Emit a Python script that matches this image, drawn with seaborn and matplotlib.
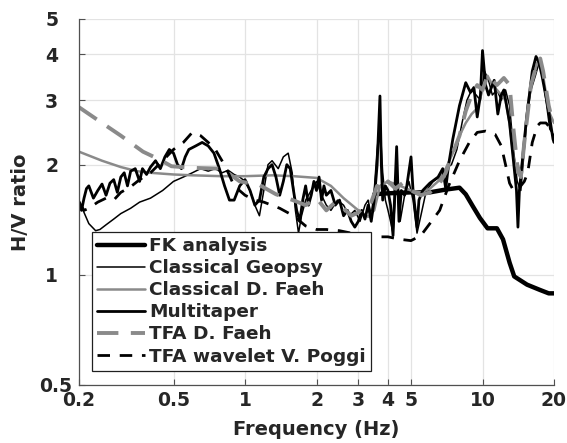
import numpy as np
import pandas as pd
import matplotlib
matplotlib.use("Agg")
import matplotlib.pyplot as plt
import matplotlib.transforms as mtransforms
from matplotlib.ticker import FixedLocator, FixedFormatter, NullLocator
import seaborn as sns

# ---------------- data ----------------
fk_freq = [3.5, 4.0, 5.0, 6.0, 7.0, 7.5, 8.0, 8.5, 9.1, 9.75, 10.5, 11.5, 12.2,
           13.0, 13.6, 15.4, 17.4, 19.0, 20.0]
fk_hv = [1.66, 1.67, 1.68, 1.68, 1.71, 1.72, 1.73, 1.66, 1.54, 1.43, 1.34, 1.34,
         1.25, 1.08, 0.99, 0.94, 0.91, 0.89, 0.89]

geopsy_freq = [0.2, 0.21, 0.22, 0.235, 0.245, 0.26, 0.28, 0.30, 0.33, 0.36, 0.40,
               0.45, 0.50, 0.55, 0.60, 0.65, 0.70, 0.75, 0.80, 0.85, 0.90, 0.95,
               1.0, 1.05, 1.1, 1.15, 1.2, 1.25, 1.3, 1.38, 1.45, 1.52, 1.58, 1.63,
               1.68, 1.73, 1.8, 1.9, 2.0, 2.1, 2.2, 2.3, 2.45, 2.6, 2.75, 2.9,
               3.05, 3.2, 3.3, 3.4, 3.5, 3.6, 3.7, 3.8, 3.9, 4.0, 4.1, 4.2, 4.3,
               4.4, 4.5, 4.7, 4.9, 5.1, 5.3, 5.5, 5.8, 6.2, 6.6, 7.0, 7.4, 7.8,
               8.2, 8.6, 9.0, 9.4, 9.8, 10.2, 10.6, 11.0, 11.5, 12.0, 12.5, 13.0,
               13.5, 14.0, 14.5, 15.0, 15.5, 16.0, 16.7, 17.3, 17.8, 18.5, 19.2, 20.0]
geopsy_hv = [1.6, 1.48, 1.38, 1.32, 1.33, 1.37, 1.42, 1.47, 1.52, 1.58, 1.62,
             1.7, 1.8, 1.85, 1.9, 1.95, 1.92, 1.95, 1.9, 1.93, 1.88, 1.85,
             1.8, 1.7, 1.55, 1.45, 1.7, 2.0, 2.05, 1.95, 2.1, 2.15, 1.9, 1.5,
             1.3, 1.45, 1.6, 1.7, 1.8, 1.65, 1.55, 1.5, 1.6, 1.55, 1.45, 1.5,
             1.4, 1.55, 1.6, 1.45, 1.7, 2.2, 2.6, 1.9, 1.6, 1.5, 1.4, 1.3, 1.65,
             1.7, 1.4, 1.65, 1.8, 1.6, 1.3, 1.45, 1.7, 1.8, 1.85, 1.95, 2.0, 2.2,
             2.6, 3.0, 3.2, 3.1, 3.0, 3.6, 3.4, 3.1, 3.2, 3.0, 3.2, 2.9,
             2.2, 1.8, 1.7, 2.2, 2.8, 3.2, 3.5, 3.8, 3.6, 3.0, 2.5, 2.4]

faeh_freq = [0.2, 0.25, 0.3, 0.35, 0.4, 0.5, 0.6, 0.8, 1.0, 1.3, 1.6, 2.0, 2.3,
             2.6, 3.0, 3.3, 3.5, 3.7, 4.0, 4.5, 5.0, 5.5, 6.0, 6.5, 7.0, 7.5,
             8.0, 8.5, 9.0, 9.5, 10.0, 10.5, 11.0, 11.5, 12.0, 12.5, 13.0, 13.5,
             14.0, 14.5, 15.0, 15.5, 16.0, 17.0, 17.5, 18.0, 19.0, 20.0]
faeh_hv = [2.17, 2.05, 1.97, 1.92, 1.9, 1.88, 1.87, 1.86, 1.86, 1.87, 1.86, 1.84,
           1.75, 1.62, 1.5, 1.44, 1.5, 1.75, 1.8, 1.75, 1.7, 1.68, 1.72, 1.8,
           1.95, 2.15, 2.4, 2.6, 2.75, 2.85, 3.2, 3.5, 3.3, 3.2, 3.1, 3.0, 2.6,
           2.1, 1.9, 1.85, 2.3, 2.9, 3.3, 3.8, 3.85, 3.5, 2.8, 2.6]

mt_freq = [0.2, 0.205, 0.21, 0.215, 0.22, 0.23, 0.24, 0.25, 0.26, 0.27, 0.28,
           0.29, 0.30, 0.31, 0.32, 0.33, 0.345, 0.36, 0.37, 0.385, 0.40, 0.42,
           0.44, 0.46, 0.48, 0.50, 0.52, 0.54, 0.56, 0.58, 0.62, 0.66, 0.70,
           0.74, 0.78, 0.82, 0.86, 0.9, 0.95, 1.0, 1.05, 1.1, 1.15, 1.2, 1.25,
           1.3, 1.35, 1.4, 1.45, 1.5, 1.55, 1.6, 1.65, 1.7, 1.75, 1.8, 1.85,
           1.9, 1.95, 2.0, 2.05, 2.1, 2.15, 2.2, 2.3, 2.4, 2.5, 2.6, 2.7, 2.8,
           2.9, 3.0, 3.1, 3.2, 3.3, 3.4, 3.5, 3.6, 3.7, 3.75, 3.8, 3.9, 4.0,
           4.1, 4.2, 4.35, 4.45, 4.55, 4.7, 4.8, 5.0, 5.1, 5.3, 5.4, 5.6, 6.0,
           6.5, 6.8, 7.0, 7.2, 7.5, 8.0, 8.5, 8.9, 9.2, 9.5, 9.8, 10.0, 10.3,
           10.6, 11.2, 11.6, 12.0, 12.3, 13.0, 13.6, 13.9, 14.1, 14.3, 14.6,
           15.3, 16.2, 16.8, 17.3, 17.8, 19.0, 19.8, 20.0]
mt_hv = [1.55, 1.5, 1.62, 1.72, 1.75, 1.62, 1.7, 1.77, 1.65, 1.78, 1.82,
         1.68, 1.85, 1.9, 1.75, 1.92, 1.95, 1.8, 1.95, 1.88, 1.97, 2.05,
         1.95, 2.1, 2.2, 2.15, 2.0, 1.95, 2.1, 2.2, 2.25, 2.3, 2.25,
         2.15, 1.95, 1.75, 1.6, 1.6, 1.75, 1.82, 1.7, 1.55, 1.6, 1.85, 1.95,
         2.0, 1.85, 1.65, 1.8, 2.0, 1.95, 1.7, 1.5, 1.4, 1.6, 1.75, 1.55,
         1.65, 1.8, 1.7, 1.85, 1.6, 1.75, 1.65, 1.7, 1.55, 1.6, 1.45, 1.5, 1.4,
         1.35, 1.4, 1.5, 1.42, 1.55, 1.4, 1.6, 2.0, 3.08, 2.0, 1.6, 1.75, 1.7,
         1.55, 1.28, 2.24, 1.4, 1.7, 1.65, 1.75, 2.1, 1.7, 1.35, 1.6, 1.7, 1.78,
         1.85, 1.95, 1.72, 2.0, 2.35, 2.9, 3.35, 3.15, 3.25, 2.7, 3.1, 4.1, 3.3,
         3.1, 3.4, 2.75, 3.1, 3.2, 2.6, 1.95, 1.7, 1.35, 1.7, 1.95,
         2.65, 3.6, 3.95, 3.8, 3.5, 2.8, 2.35, 2.3]

tfa_faeh_freq = [0.2, 0.25, 0.3, 0.372, 0.44, 0.49, 0.6, 0.8, 0.95, 1.15, 1.35,
                 1.59, 1.8, 2.0, 2.2, 2.4, 2.6, 2.8, 3.0, 3.2, 3.4, 3.6, 3.8,
                 4.0, 4.3, 4.6, 5.0, 5.5, 6.0, 6.5, 7.0, 7.5, 8.0, 8.5, 9.0,
                 9.5, 10.0, 10.5, 11.0, 11.5, 12.3, 13.0, 13.5, 14.0, 14.5,
                 15.0, 16.0, 17.0, 17.5, 18.0, 19.0, 19.5, 20.0]
tfa_faeh_hv = [2.87, 2.6, 2.4, 2.17, 2.06, 1.98, 1.96, 1.95, 1.8, 1.76, 1.66,
               1.6, 1.55, 1.62, 1.5, 1.58, 1.52, 1.45, 1.48, 1.55, 1.58, 1.75, 1.7,
               1.8, 1.72, 1.78, 1.7, 1.65, 1.68, 1.75, 1.9, 2.15, 2.4, 2.8, 3.1,
               3.3, 3.2, 3.5, 3.4, 3.3, 3.45, 3.3, 2.5, 2.0, 1.85,
               2.3, 3.3, 3.8, 3.9, 3.6, 2.9, 2.7, 2.8]

poggi_freq = [0.2, 0.21, 0.22, 0.24, 0.26, 0.28, 0.3, 0.33, 0.36, 0.4, 0.45,
              0.5, 0.55, 0.6, 0.65, 0.7, 0.75, 0.8, 0.85, 0.9, 1.0, 1.1, 1.2,
              1.4, 1.6, 1.8, 2.0, 2.2, 2.5, 2.8, 3.2, 3.6, 4.0, 4.5, 5.0, 5.5,
              6.0, 6.6, 7.2, 8.0, 8.8, 9.5, 10.3, 11.3, 12.0, 12.5, 13.0, 13.5,
              14.0, 15.0, 15.5, 16.2, 17.0, 17.5, 18.5, 19.5, 20.0]
poggi_hv = [1.58, 1.5, 1.52, 1.58, 1.62, 1.6, 1.68, 1.74, 1.82, 1.9, 2.05,
            2.2, 2.3, 2.45, 2.4, 2.3, 2.2, 2.05, 1.9, 1.75, 1.65, 1.6, 1.58,
            1.52, 1.45, 1.36, 1.33, 1.33, 1.32, 1.3, 1.27, 1.27, 1.27, 1.25, 1.24, 1.28,
            1.38, 1.5, 1.75, 2.05, 2.3, 2.45, 2.47, 2.42, 2.25, 2.0, 1.78, 1.7,
            1.7, 1.8, 1.9, 2.3, 2.55, 2.6, 2.6, 2.5, 2.4]

series_names = ["FK analysis", "Classical Geopsy", "Classical D. Faeh",
                "Multitaper", "TFA D. Faeh", "TFA wavelet V. Poggi"]
x_ticks = [0.2, 0.5, 1, 2, 3, 4, 5, 10, 20]
x_tick_labels = ["0.2", "0.5", "1", "2", "3", "4", "5", "10", "20"]
y_ticks = [0.5, 1, 2, 3, 4, 5]
y_tick_labels = ["0.5", "1", "2", "3", "4", "5"]

# ---------------- style ----------------
sns.set_style("whitegrid", {
    "grid.color": "#e3e3e3",
    "axes.edgecolor": "#404040",
    "xtick.direction": "in",
    "ytick.direction": "in",
    "xtick.bottom": True,
    "ytick.left": True,
})
plt.rcParams["font.family"] = ["DejaVu Sans"]
plt.rcParams["font.weight"] = "bold"
text_color = "#262626"

fig = plt.figure(figsize=(5.67, 4.43), dpi=100)
ax = fig.add_axes([79 / 567, 1 - 385 / 443, 475 / 567, 366 / 443])

styles = [
    dict(color="black", lw=3.2, ls="-"),
    dict(color="black", lw=1.1, ls="-"),
    dict(color="#8a8a8a", lw=1.8, ls="-"),
    dict(color="black", lw=2.0, ls="-"),
    dict(color="#8a8a8a", lw=2.8, ls=(0, (5.5, 3.2))),
    dict(color="black", lw=2.0, ls=(0, (4.5, 3.5))),
]
data_sets = [(fk_freq, fk_hv), (geopsy_freq, geopsy_hv), (faeh_freq, faeh_hv),
             (mt_freq, mt_hv), (tfa_faeh_freq, tfa_faeh_hv), (poggi_freq, poggi_hv)]

for name, (fx, fy), st in zip(series_names, data_sets, styles):
    df = pd.DataFrame({"Frequency": fx, "HV": fy})
    sns.lineplot(data=df, x="Frequency", y="HV", ax=ax, estimator=None,
                 sort=False, color=st["color"], linewidth=st["lw"],
                 linestyle=st["ls"], label=name)

ax.set_xscale("log")
ax.set_yscale("log")
ax.set_xlim(0.2, 20)
ax.set_ylim(0.5, 5)
ax.xaxis.set_major_locator(FixedLocator(x_ticks))
ax.xaxis.set_major_formatter(FixedFormatter(x_tick_labels))
ax.xaxis.set_minor_locator(NullLocator())
ax.yaxis.set_major_locator(FixedLocator(y_ticks))
ax.yaxis.set_major_formatter(FixedFormatter(y_tick_labels))
ax.yaxis.set_minor_locator(NullLocator())

ax.grid(True, which="major", color="#e3e3e3", lw=0.9)
for s in ["top", "right"]:
    ax.spines[s].set_visible(False)
for s in ["left", "bottom"]:
    ax.spines[s].set_color("#505050")
    ax.spines[s].set_linewidth(0.9)

ax.tick_params(axis="x", direction="in", length=4, width=0.8, color="#505050",
               labelsize=13.5, labelcolor=text_color, pad=4)
ax.tick_params(axis="y", direction="in", length=4, width=0.8, color="#505050",
               labelsize=13.5, labelcolor=text_color, pad=15)
for lab in ax.get_xticklabels() + ax.get_yticklabels():
    lab.set_fontweight("bold")

# shift the "0.5" y label like the reference
for lab in ax.get_yticklabels():
    if lab.get_text() == "0.5":
        lab.set_transform(lab.get_transform() +
                          mtransforms.ScaledTranslation(0.14, 0, fig.dpi_scale_trans))

ax.set_xlabel("Frequency (Hz)", fontsize=14, fontweight="bold", color=text_color)
ax.set_ylabel("H/V ratio", fontsize=14, fontweight="bold", color=text_color)
ax.xaxis.set_label_coords(0.5, -0.095)
ax.yaxis.set_label_coords(-0.103, 0.5)

leg = ax.legend(loc="lower left", bbox_to_anchor=(0.027, 0.038), borderaxespad=0,
                frameon=True, fancybox=False, framealpha=1, edgecolor="#202020",
                prop={"weight": "bold", "size": 13.3}, handlelength=2.6,
                handletextpad=0.2, labelspacing=0.22, borderpad=0.3)
leg.get_frame().set_linewidth(0.9)
for t in leg.get_texts():
    t.set_color(text_color)

fig.savefig("out.png", dpi=100)
